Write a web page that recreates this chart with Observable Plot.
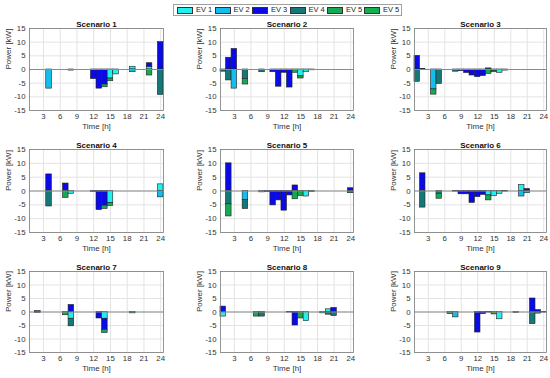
<!DOCTYPE html>
<html>
<head>
<meta charset="utf-8">
<script src="https://cdn.jsdelivr.net/npm/d3@7"></script>
<script src="https://cdn.jsdelivr.net/npm/@observablehq/plot@0.6"></script>
<style>
  body { margin: 0; background: #fff; font-family: "Liberation Sans", Arial, sans-serif; }
  #wrap { position: relative; width: 550px; height: 378px; overflow: hidden; background: #fff; }
  #wrap svg { position: absolute; background: transparent; }
  #legend { position: absolute; left: 173px; top: 4px; width: 229px; height: 12px; border: 1px solid #a0a0a0; box-sizing: border-box; background: #fff; }
  .sw { position: absolute; top: 1.5px; width: 16px; height: 7px; border: 1px solid #333; box-sizing: border-box; }
  .lt { position: absolute; top: 0px; font-size: 7.5px; line-height: 10px; color: #222; white-space: nowrap; }
</style>
</head>
<body>
<div id="wrap"><div id="legend"></div></div>
<script>
// ---- data ----
const seriesKeys = ["EV1", "EV2", "EV3", "EV4", "EV5", "EV6"];
const seriesLabels = ["EV 1", "EV 2", "EV 3", "EV 4", "EV 5", "EV 5"];
const seriesColors = ["#22F0F0", "#14BEEC", "#0A0AE6", "#157878", "#17A853", "#13B04F"];
const hourTicks = [3, 6, 9, 12, 15, 18, 21, 24];
const powerTicks = [-15, -10, -5, 0, 5, 10, 15];
const titles = ["Scenario 1", "Scenario 2", "Scenario 3", "Scenario 4", "Scenario 5", "Scenario 6", "Scenario 7", "Scenario 8", "Scenario 9"];

// [hour, series (1-6), power kW]
const scenario1 = [[4,2,-7],[8,2,-0.4],[12,3,-3.5],[13,3,-7],[14,3,-5.5],[14,5,-1],[15,1,-3.3],[15,5,-1],[16,1,-1.8],[19,1,1],[19,2,-1],[22,1,1],[22,3,1.3],[22,5,-2.2],[24,3,10],[24,4,-9.3]];
const scenario2 = [[1,4,-0.8],[2,3,4.3],[2,4,-4],[3,3,7.5],[3,2,-7],[5,4,-3.5],[5,5,-2],[8,4,-1],[10,3,-1],[11,3,-6.3],[12,3,-1.2],[13,3,-6.6],[14,5,-1.2],[15,1,-2.5],[15,5,-0.8],[16,1,-1],[17,4,-0.3]];
const scenario3 = [[1,3,5],[1,4,-4.5],[2,4,0.2],[4,2,-7.3],[4,5,-1.9],[5,4,-5.3],[8,4,-0.8],[9,3,-0.6],[10,3,-1.3],[11,3,-2.2],[12,3,-2.8],[13,3,-2.4],[14,4,0.4],[14,5,-1.6],[15,1,-0.5],[15,5,-0.5],[16,1,-1.2],[17,4,-0.4]];
const scenario4 = [[4,3,6],[4,4,-5.6],[7,3,2.7],[7,5,-2.5],[8,1,-1],[12,3,-0.3],[13,3,-6.9],[14,3,-5.3],[14,5,-1.2],[15,1,-4.4],[15,5,-1],[24,1,2.4],[24,2,-2.3]];
const scenario5 = [[2,3,10],[2,4,-4.8],[2,5,-4.4],[5,2,-3.3],[5,4,-3.2],[8,2,-0.5],[9,3,-0.4],[10,3,-5.2],[11,3,-3.4],[12,3,-7.1],[13,3,-1.6],[14,3,2],[14,5,-3],[15,5,-1.8],[16,1,-2],[17,4,-0.3],[24,3,1],[24,4,-0.8]];
const scenario6 = [[2,3,6.4],[2,4,-6],[5,4,-1],[5,5,-1.8],[8,4,-0.2],[9,3,-1.2],[10,3,-1.2],[11,3,-4.3],[12,3,-2.2],[13,3,-1.4],[14,1,-1.6],[14,5,-1.8],[15,1,-1.9],[16,1,-1],[17,4,-0.2],[20,1,2.2],[20,2,-2],[21,3,0.7],[21,2,-0.8]];
const scenario7 = [[2,3,0.3],[2,4,-0.3],[7,5,-1.2],[8,3,2.6],[8,1,-2.5],[8,4,-2.8],[13,3,-2.4],[14,1,-2.5],[14,3,-4.1],[14,5,-1.2],[19,4,-0.5]];
const scenario8 = [[1,3,2],[1,1,-1.7],[7,5,-1.7],[8,4,-1.7],[13,3,-0.2],[14,3,-5],[15,5,-2.4],[16,1,-3.4],[19,2,-0.5],[20,1,1],[20,4,-1],[21,3,1.5],[21,4,-1.5]];
const scenario9 = [[7,5,-0.8],[8,2,-2],[12,3,-7.6],[13,3,-0.8],[14,4,-0.2],[15,5,-0.9],[16,1,-2.7],[19,2,-0.4],[22,3,5],[22,4,-4.5],[23,3,0.7],[23,4,-0.6],[24,4,-0.2]];
const scenarios = [scenario1, scenario2, scenario3, scenario4, scenario5, scenario6, scenario7, scenario8, scenario9];

// ---- layout ----
const frameLefts = [29, 220, 414];
const frameWidths = [134, 133, 132];
const frameTops = [28, 149, 271];
const frameHeights = [82, 83, 81];
const mL = 29, mR = 4, mT = 15, mB = 25;

const wrap = document.getElementById("wrap");
const color = {domain: seriesKeys, range: seriesColors};
const fmt = d => String(d);

scenarios.forEach((sc, i) => {
  const col = i % 3, row = Math.floor(i / 3);
  const rows = sc.map(([h, s, v]) => ({hour: h, s, key: seriesKeys[s - 1], value: v}))
    .sort((a, b) => a.hour - b.hour || a.s - b.s);
  const fw = frameWidths[col], fh = frameHeights[row];
  const chart = Plot.plot({
    width: mL + fw + mR,
    height: mT + fh + mB,
    marginLeft: mL, marginRight: mR, marginTop: mT, marginBottom: mB,
    style: {fontFamily: "Liberation Sans, Arial, sans-serif", fontSize: "7.8px", color: "#333", background: "transparent", overflow: "visible"},
    x: {domain: [0.5, 24.5]},
    y: {domain: [-15, 15]},
    color,
    marks: [
      Plot.gridX(hourTicks, {stroke: "#e3e3e3", strokeOpacity: 1}),
      Plot.gridY(powerTicks, {stroke: "#e3e3e3", strokeOpacity: 1}),
      Plot.rectY(rows, {x1: d => d.hour - 0.5, x2: d => d.hour + 0.5, y: "value", fill: "key", stroke: "#222", strokeWidth: 0.6}),
      Plot.ruleY([0], {stroke: "#8a8a8a", strokeWidth: 1.2}),
      Plot.frame({stroke: "#7a7a7a", strokeWidth: 0.8}),
      Plot.axisX(hourTicks, {tickSize: 0, tickPadding: 3, label: null, tickFormat: fmt, fill: "#333"}),
      Plot.axisY(powerTicks, {tickSize: 0, tickPadding: 4, label: null, tickFormat: fmt, fill: "#333"}),
      Plot.text([titles[i]], {frameAnchor: "top", dy: -7, fontWeight: "bold", fontSize: 8, fill: "#111"}),
      Plot.text(["Time [h]"], {frameAnchor: "bottom", dy: 18, fontSize: 8, fill: "#333"}),
      Plot.text(["Power [kW]"], {frameAnchor: "left", dx: -21, rotate: -90, fontSize: 8, fill: "#333"})
    ]
  });
  chart.style.left = (frameLefts[col] - mL) + "px";
  chart.style.top = (frameTops[row] - mT) + "px";
  wrap.appendChild(chart);
});

// ---- legend ----
const legend = document.getElementById("legend");
const legendOffsets = [3, 40.5, 78, 115.5, 153, 190];
seriesLabels.forEach((lab, k) => {
  const sw = document.createElement("div");
  sw.className = "sw";
  sw.style.left = legendOffsets[k] + "px";
  sw.style.background = seriesColors[k];
  legend.appendChild(sw);
  const t = document.createElement("div");
  t.className = "lt";
  t.style.left = (legendOffsets[k] + 19) + "px";
  t.textContent = lab;
  legend.appendChild(t);
});
</script>
</body>
</html>
